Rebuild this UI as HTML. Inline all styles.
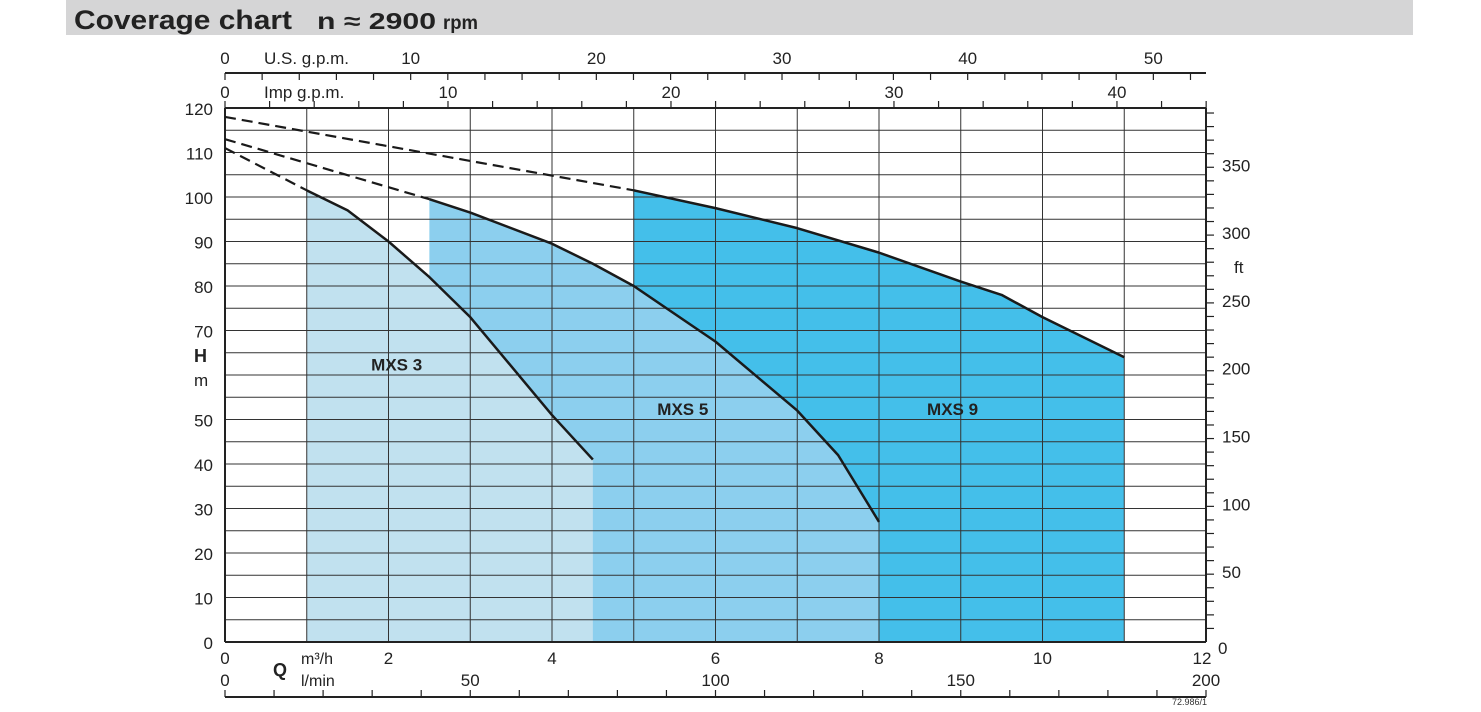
<!DOCTYPE html>
<html><head><meta charset="utf-8"><style>
body{margin:0;background:#fff;width:1481px;height:707px;overflow:hidden;font-family:"Liberation Sans",Arial,sans-serif}
svg text{font-family:"Liberation Sans",Arial,sans-serif}
</style></head><body>
<svg id="c" width="1481" height="707" xmlns="http://www.w3.org/2000/svg">
<rect x="66" y="0" width="1347" height="35" fill="#d5d5d6"/>
<text x="74" y="29" font-size="27" font-weight="bold" fill="#222" textLength="218" lengthAdjust="spacingAndGlyphs">Coverage chart</text>
<text x="317" y="29" font-size="23" font-weight="bold" fill="#222" textLength="119" lengthAdjust="spacingAndGlyphs">n ≈ 2900</text>
<text x="443" y="29" font-size="19" font-weight="bold" fill="#222" textLength="35" lengthAdjust="spacingAndGlyphs">rpm</text>
<g id="g"></g>
</svg>
<script>
const mxs3Q=[1,1.5,2,2.5,3,3.5,4,4.5];
const mxs3H=[101.5,97,90,82,73,62,51,41];
const mxs5Q=[2.5,3,4,4.5,5,6,7,7.5,8];
const mxs5H=[99.5,96.5,89.5,85,80,67.5,52,42,27];
const mxs9Q=[5,6,7,8,9,9.5,10,11];
const mxs9H=[101.5,97.5,93,87.5,81,78,73,64];
const dash3=[[0,111],[1,101.5]];
const dash5=[[0,113],[2.5,99.5]];
const dash9=[[0,118],[5,101.5]];
const labels=["MXS 3","MXS 5","MXS 9"];
const labelPos=[[2.1,61],[5.6,51],[8.9,51]];
const hTicks=[0,10,20,30,40,50,70,80,90,100,110,120];
const ftTicks=[0,50,100,150,200,250,300,350];
const qTicks=[0,2,4,6,8,10,12];
const lminTicks=[0,50,100,150,200];
const usTicks=[0,10,20,30,40,50];
const impTicks=[0,10,20,30,40];

const L=225,R=1206,T=108,B=642;
const X=q=>L+(R-L)*q/12, Y=h=>B-(B-T)*h/120;
const NS="http://www.w3.org/2000/svg",g=document.getElementById('g');
function el(t,a,txt){const e=document.createElementNS(NS,t);for(const k in a)e.setAttribute(k,a[k]);if(txt!==undefined)e.textContent=txt;g.appendChild(e);return e;}
function area(Q,H,fill,name){let d=`M${X(Q[0])},${Y(0)}`;Q.forEach((q,i)=>d+=`L${X(q)},${Y(H[i])}`);d+=`L${X(Q[Q.length-1])},${Y(0)}Z`;
 const e=el('path',{d,fill});}
area(mxs9Q,mxs9H,'#44bfea','mxs9-area');area(mxs5Q,mxs5H,'#8ccfee','mxs5-area');area(mxs3Q,mxs3H,'#c1e1ef','mxs3-area');
for(let i=1;i<24;i++){const e=el('line',{x1:L,x2:R,y1:Y(i*5),y2:Y(i*5),stroke:'#333','stroke-width':1});}
for(let i=1;i<12;i++){const e=el('line',{x1:X(i),x2:X(i),y1:T,y2:B,stroke:'#333','stroke-width':1});}
[[L,T,R,T],[L,T,L,B],[L,B,R,B],[R,T,R,B]].forEach(s=>{const e=el('line',{x1:s[0],y1:s[1],x2:s[2],y2:s[3],stroke:'#222','stroke-width':2});});
function line(Q,H,name){let d='';Q.forEach((q,i)=>d+=(i?'L':'M')+X(q)+','+Y(H[i]));const e=el('path',{d,fill:'none',stroke:'#1a1a1a','stroke-width':2.5,'stroke-linejoin':'round'});}
line(mxs3Q,mxs3H,'mxs3-curve');line(mxs5Q,mxs5H,'mxs5-curve');line(mxs9Q,mxs9H,'mxs9-curve');
[dash3,dash5,dash9].forEach((dd,i)=>{const e=el('line',{x1:X(dd[0][0]),y1:Y(dd[0][1]),x2:X(dd[1][0]),y2:Y(dd[1][1]),stroke:'#1a1a1a','stroke-width':2.2,'stroke-dasharray':'11,6'});});
labels.forEach((t,i)=>{const e=el('text',{x:X(labelPos[i][0]),y:Y(labelPos[i][1]),'font-size':17,'font-weight':'bold','fill':'#222','text-anchor':'middle'},t);});
hTicks.forEach(h=>{const e=el('text',{x:213,y:Y(h)+7,'font-size':17,'text-anchor':'end',fill:'#222'},h);});
const fy=f=>Y(f*0.3048);
for(let f=10;f<=390;f+=10){const e=el('line',{x1:R,x2:R+8,y1:fy(f),y2:fy(f),stroke:'#222','stroke-width':1.2});}
ftTicks.forEach(f=>{const e=el('text',{x:f?1222:1218,y:fy(f)+(f?4:12),'font-size':17,fill:'#222'},f);});
let e;
e=el('text',{x:1234,y:273,'font-size':17,fill:'#222'},'ft');
e=el('text',{x:194,y:362,'font-size':18,'font-weight':'bold',fill:'#222'},'H');
e=el('text',{x:194,y:386,'font-size':17,fill:'#222'},'m');
qTicks.forEach(q=>{const e=el('text',{x:X(q)-(q==12?4:0),y:664,'font-size':17,'text-anchor':'middle',fill:'#222'},q);});
e=el('text',{x:273,y:676,'font-size':18,'font-weight':'bold',fill:'#222'},'Q');
e=el('text',{x:301,y:664,'font-size':16,fill:'#222'},'m³/h');
e=el('text',{x:301,y:686,'font-size':16,fill:'#222'},'l/min');
function axis(y,dir,perUnit,maxVal,step,ticks,lblY,name,title){
 const ax=el('line',{x1:L,x2:R,y1:y,y2:y,stroke:'#222','stroke-width':2});
 for(let v=0;v<=maxVal+1e-9;v+=step){const x=X(v*perUnit);if(x>R+1)break;const t=el('line',{x1:x,x2:x,y1:y+dir*7,y2:y,stroke:'#222','stroke-width':1.2});}
 ticks.forEach(v=>{const t=el('text',{x:X(v*perUnit),y:lblY,'font-size':17,'text-anchor':'middle',fill:'#222'},v);});
 if(title){const t=el('text',{x:264,y:lblY,'font-size':17,fill:'#222'},title);}
}
axis(73,1,0.22712,52,2,usTicks,64,'us-gpm','U.S. g.p.m.');
axis(108,-1,0.27277,44,2,impTicks,98,'imp-gpm','Imp g.p.m.');
axis(697,-1,0.06,200,10,lminTicks,686,'lmin',null);
e=el('text',{x:1207,y:705,'font-size':9,'text-anchor':'end',fill:'#333'},'72.986/1');
</script>
</body></html>
